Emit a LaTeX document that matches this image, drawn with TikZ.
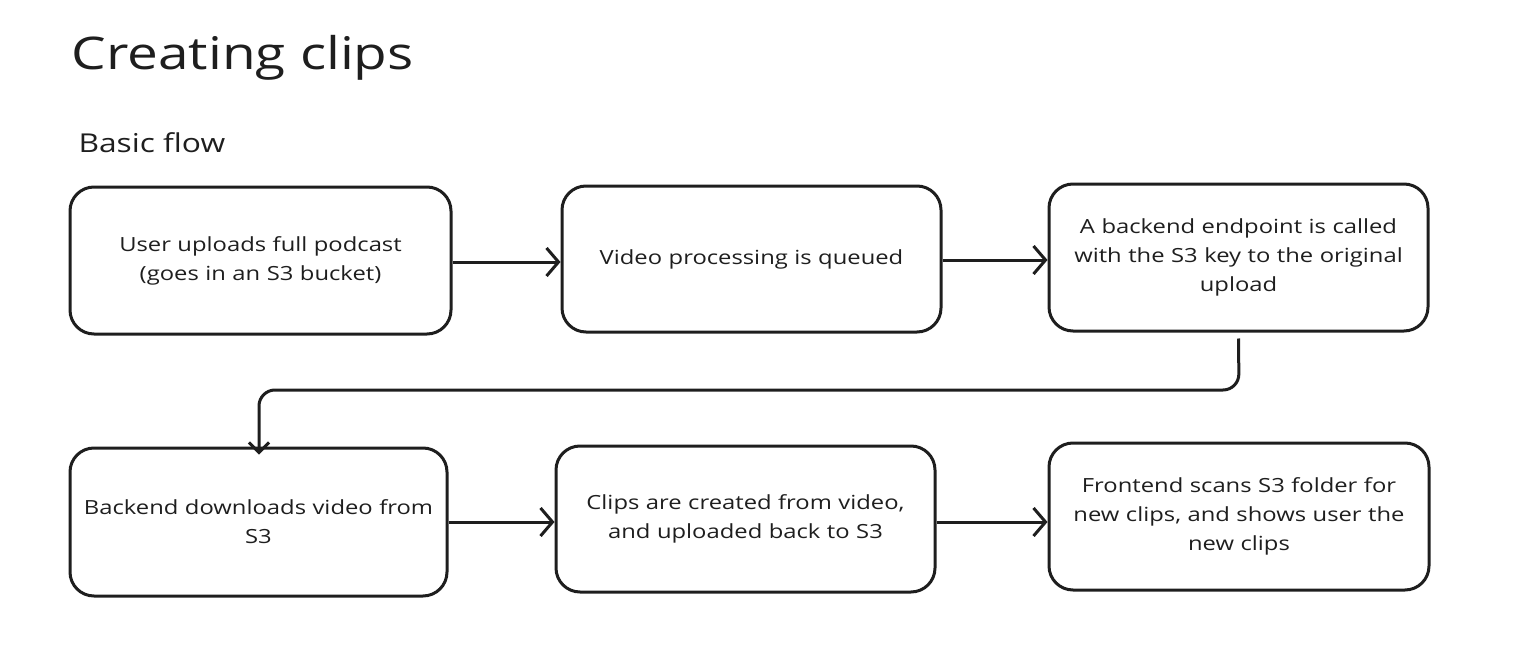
\documentclass[tikz,border=0pt]{standalone}
\usepackage{fontspec}
\setmainfont{Open Sans}[FakeStretch=1.22]
\usetikzlibrary{arrows.meta}
\definecolor{ink}{HTML}{1E1E1E}
\begin{document}
\begin{tikzpicture}[x=1pt,y=-1pt,
  flowbox/.style={draw=ink, line width=3pt, rounded corners=24pt, align=center, text=ink,
    font=\fontsize{19.5}{29}\selectfont, inner sep=0pt, text width=360pt},
  conn/.style={draw=ink, line width=3pt, -{Straight Barb[length=12pt,width=28pt,line width=3pt]}}]
\useasboundingbox (0,0) rectangle (1521,650);
\node[anchor=base west, text=ink, font=\fontsize{45}{50}\selectfont] (title) at (68,70) {Creating clips};
\node[anchor=base west, text=ink, font=\fontsize{26}{30}\selectfont] (sub) at (75,153) {Basic flow};
\node[flowbox, minimum width=381pt, minimum height=147pt] (b1) at (260.5,260.5) {User uploads full podcast\\(goes in an S3 bucket)};
\node[flowbox, minimum width=379pt, minimum height=146pt] (b2) at (751.5,259) {Video processing is queued};
\node[flowbox, minimum width=379pt, minimum height=147pt] (b3) at (1238.5,257.5) {A backend endpoint is called\\with the S3 key to the original\\upload};
\node[flowbox, minimum width=377pt, minimum height=148pt] (b4) at (258.5,522) {Backend downloads video from\\S3};
\node[flowbox, minimum width=379pt, minimum height=146pt] (b5) at (745.5,519) {Clips are created from video,\\and uploaded back to S3};
\node[flowbox, minimum width=380pt, minimum height=147pt] (b6) at (1239,516.5) {Frontend scans S3 folder for\\new clips, and shows user the\\new clips};
\coordinate (c1) at (1239,390);
\coordinate (c2) at (259,390);
\draw[conn] (b1.east |- 0,262) -- (b2.west |- 0,262);
\draw[conn] (b2.east |- 0,260) -- (b3.west |- 0,260);
\draw[conn, rounded corners=16pt, -{Straight Barb[length=10pt,width=20pt,line width=3pt]}] ([yshift=-6pt]b3.south) -- (c1) -- (c2) -- ([yshift=-8pt]b4.north -| c2);
\draw[conn] (b4.east |- 0,522) -- (b5.west |- 0,522);
\draw[conn] (b5.east |- 0,522) -- (b6.west |- 0,522);
\end{tikzpicture}
\end{document}
